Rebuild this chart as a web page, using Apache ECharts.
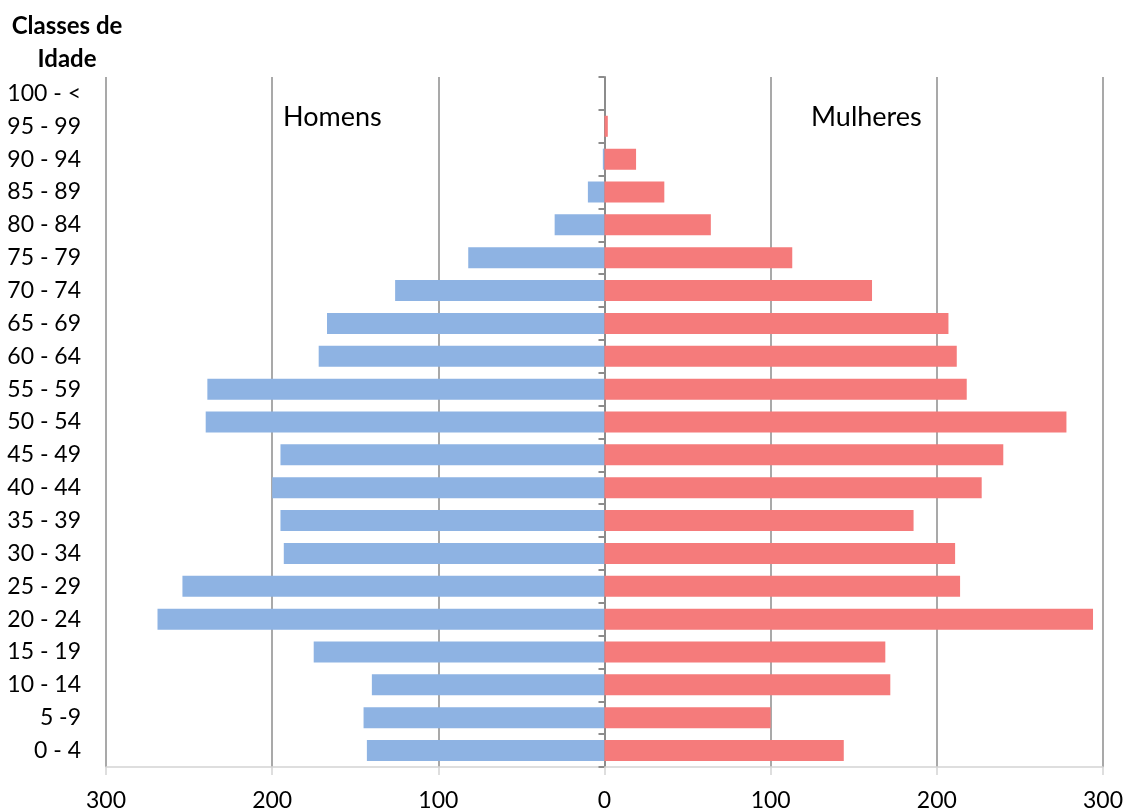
<!DOCTYPE html>
<html>
<head>
<meta charset="utf-8">
<script src="https://cdn.jsdelivr.net/npm/echarts@6/dist/echarts.min.js"></script>
<style>
html,body{margin:0;padding:0;background:#fff;}
#c{width:1126px;height:812px;}
</style>
</head>
<body>
<div id="c"></div>
<script>
var categories = ['0 - 4','5 -9','10 - 14','15 - 19','20 - 24','25 - 29','30 - 34','35 - 39','40 - 44','45 - 49','50 - 54','55 - 59','60 - 64','65 - 69','70 - 74','75 - 79','80 - 84','85 - 89','90 - 94','95 - 99','100 - <'];
var homens = [143,145,140,175,269,254,193,195,200,195,240,239,172,167,126,82,30,10,1,0,0];
var mulheres = [144,100,172,169,294,214,211,186,227,240,278,218,212,207,161,113,64,36,19,2,0];
var xTicks = [-300,-200,-100,0,100,200,300];

var FONT = 'Lato, "Open Sans", sans-serif';
var chart = echarts.init(document.getElementById('c'), null, {renderer:'canvas'});
var option = {
  animation:false,
  backgroundColor:'#ffffff',
  grid:{left:106, right:23, top:77, bottom:43, containLabel:false},
  xAxis:{
    type:'value', min:xTicks[0], max:xTicks[xTicks.length-1], interval:100,
    axisLine:{show:true, onZero:false, lineStyle:{color:'#d4d4d4', width:1.5}},
    axisTick:{show:true, length:8, lineStyle:{color:'#d4d4d4', width:1.5}},
    axisLabel:{formatter:function(v){return String(Math.abs(v));}, fontFamily:FONT, fontSize:23, color:'#000', margin:22},
    splitLine:{show:true, lineStyle:{color:'#8c8c8c', width:1.5}}
  },
  yAxis:[{
    type:'category', data:categories,
    axisLine:{show:false},
    axisTick:{show:false},
    axisLabel:{fontFamily:FONT, fontSize:23, color:'#000', margin:25}
  },{
    type:'category', data:categories, position:'left', offset:-498.5,
    axisLine:{show:true, onZero:false, lineStyle:{color:'#8c8c8c', width:2}},
    axisTick:{show:true, length:6, lineStyle:{color:'#8c8c8c', width:2}},
    axisLabel:{show:false}
  }],
  series:[{
    name:'Homens', type:'bar', yAxisIndex:0,
    data:homens.map(function(v){return -v;}),
    barWidth:21, barGap:'-100%',
    itemStyle:{color:'#8EB3E3'}
  },{
    name:'Mulheres', type:'bar', yAxisIndex:0,
    data:mulheres,
    barWidth:21, barGap:'-100%',
    itemStyle:{color:'#F57B7B'}
  }],
  graphic:[
    {type:'text', x:283, y:117, style:{text:'Homens', font:'27px '+FONT, fill:'#000', verticalAlign:'middle'}},
    {type:'text', x:811, y:117, style:{text:'Mulheres', font:'27px '+FONT, fill:'#000', verticalAlign:'middle'}},
    {type:'text', x:67, y:26, style:{text:'Classes de', font:'bold 24px '+FONT, fill:'#000', align:'center', verticalAlign:'middle'}},
    {type:'text', x:67, y:59, style:{text:'Idade', font:'bold 24px '+FONT, fill:'#000', align:'center', verticalAlign:'middle'}}
  ]
};
chart.setOption(option);
</script>
</body>
</html>
